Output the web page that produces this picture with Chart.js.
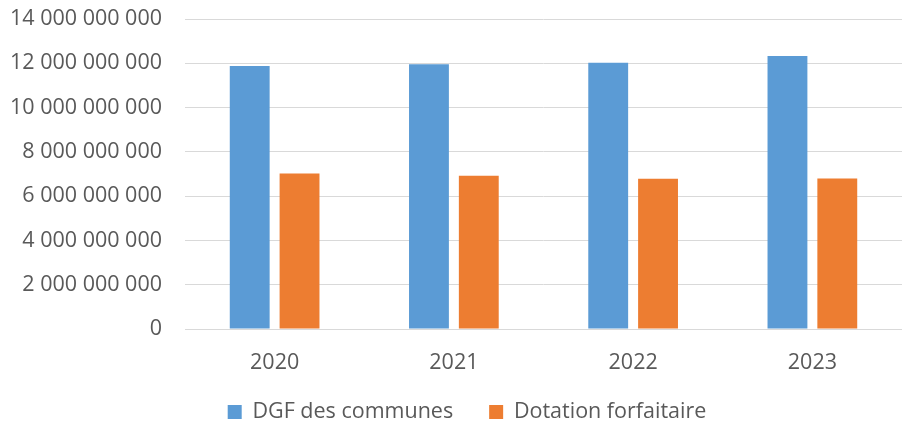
<!DOCTYPE html>
<html><head><meta charset="utf-8">
<script src="https://cdn.jsdelivr.net/npm/chart.js@4"></script>
<style>html,body{margin:0;padding:0;background:#fff}#wrap{width:902px;height:424px}</style>
</head><body><div id="wrap"><canvas id="c" width="902" height="424"></canvas></div>
<script>
const categories = ["2020", "2021", "2022", "2023"];
const seriesNames = ["DGF des communes", "Dotation forfaitaire"];
const dgfCommunes = [11880000000, 11960000000, 12020000000, 12330000000];
const dotationForfaitaire = [7020000000, 6920000000, 6780000000, 6800000000];
const yMax = 14000000000;
const yStep = 2000000000;

function fmt(v){ return String(Math.round(v)).replace(/\B(?=(\d{3})+(?!\d))/g, ' '); }

const FONT = '"Open Sans", sans-serif';
const FS = 21.5;
const TXT = '#595959';

const legendShift = {
  id: 'legendShift',
  afterLayout(chart) {
    const lg = chart.legend;
    if (lg) { lg.left += 9; lg.right += 9; lg.top -= 10.75; lg.bottom -= 10.75; }
  }
};

new Chart(document.getElementById('c'), {
  type: 'bar',
  data: {
    labels: categories,
    datasets: [
      {label: seriesNames[0], data: dgfCommunes, backgroundColor: '#5B9BD5', borderWidth: 0},
      {label: seriesNames[1], data: dotationForfaitaire, backgroundColor: '#ED7D31', borderWidth: 0}
    ]
  },
  plugins: [legendShift],
  options: {
    responsive: false,
    animation: false,
    devicePixelRatio: 1,
    categoryPercentage: 0.556,
    barPercentage: 0.8,
    layout: {padding: {left: 10, right: -4, top: 19, bottom: -19.5}},
    plugins: {
      tooltip: {enabled: false},
      legend: {
        position: 'bottom',
        labels: {boxWidth: 14, boxHeight: 14, color: TXT, font: {family: FONT, size: FS}, padding: 36}
      }
    },
    scales: {
      x: {
        grid: {display: false, drawTicks: false},
        border: {display: true, color: '#D9D9D9', width: 1},
        ticks: {color: TXT, font: {family: FONT, size: FS}, padding: 21},
        afterFit: s => { s.height = 47; }
      },
      y: {
        min: 0, max: yMax,
        grid: {color: '#D9D9D9', lineWidth: 1, drawTicks: false},
        border: {display: false},
        ticks: {stepSize: yStep, color: TXT, font: {family: FONT, size: FS}, padding: 23, callback: v => fmt(v)},
        afterFit: s => { s.width = 175; s.paddingTop = 0; s.paddingBottom = 0; }
      }
    }
  }
});
</script></body></html>
